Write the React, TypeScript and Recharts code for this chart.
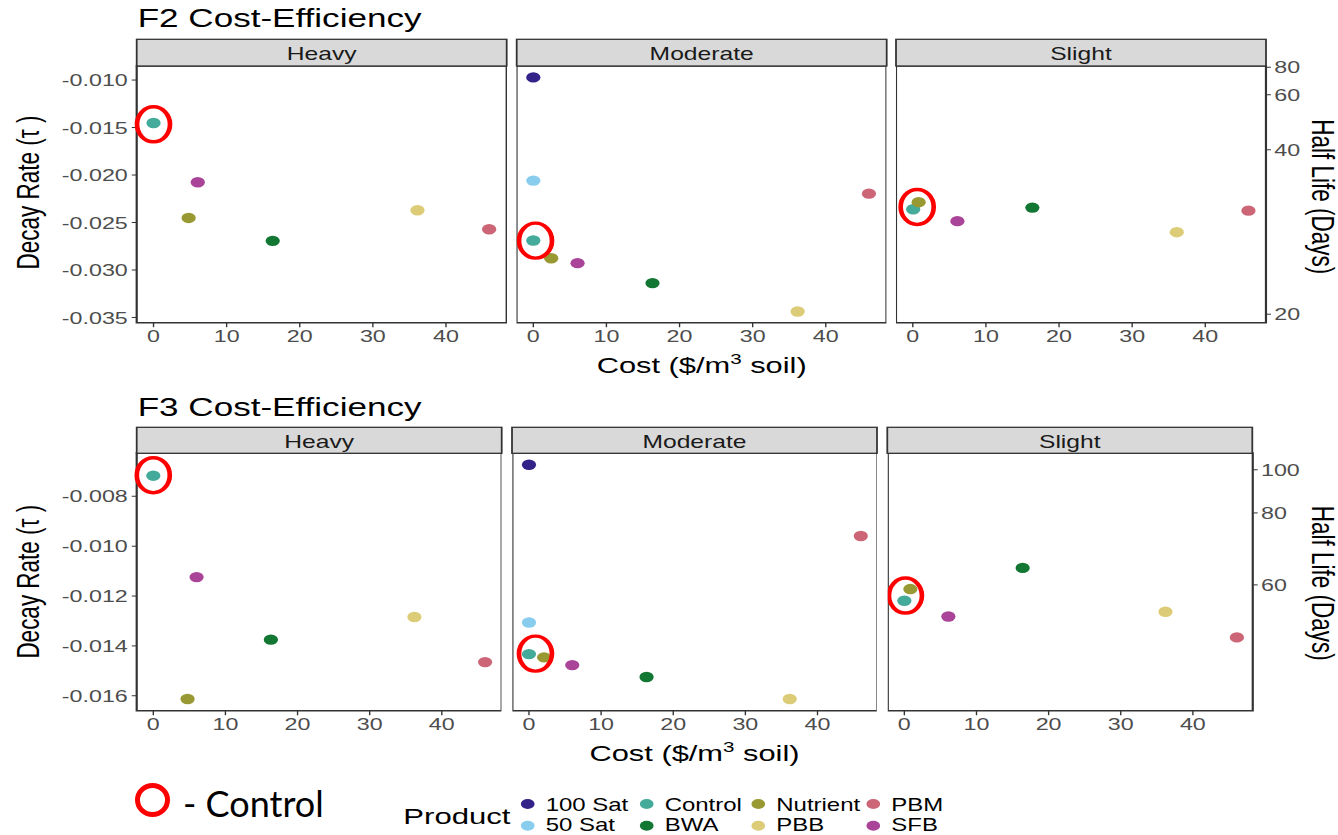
import { ScatterChart, Scatter, XAxis, YAxis, ReferenceArea } from "recharts"

// the original figure was stretched sideways when pasted onto the slide
const S = 1.37
const u = (x: number) => x / S
const FONT = "'Liberation Sans', Arial, Helvetica, sans-serif"

const products = ["100 Sat", "50 Sat", "Control", "BWA", "Nutrient", "PBB", "PBM", "SFB"]
const productColors = ["#332288", "#88CCEE", "#44AA99", "#117733", "#999933", "#DDCC77", "#CC6677", "#AA4499"]
const severities = ["Heavy", "Moderate", "Slight"]
const costTicks = [0, 10, 20, 30, 40]

// F2: cost ($/m3) and decay rate per product, one pair of arrays per severity
const f2CostHeavy = [null, null, 0, 16.3, 4.8, 36.1, 45.9, 6.05]
const f2TauHeavy = [null, null, -0.01452, -0.02693, -0.02452, -0.02371, -0.02571, -0.02076]
const f2CostModerate = [0, 0, 0, 16.3, 2.45, 36.15, 45.9, 6.05]
const f2TauModerate = [-0.00972, -0.02059, -0.0269, -0.03138, -0.02876, -0.03437, -0.02196, -0.02928]
const f2CostSlight = [null, null, 0.05, 16.35, 0.8, 36.1, 45.9, 6.1]
const f2TauSlight = [null, null, -0.0236, -0.02343, -0.02286, -0.02602, -0.02375, -0.02486]
const f2RateTicks = [-0.035, -0.03, -0.025, -0.02, -0.015, -0.01]
const f2HalfLifeTicks = [20, 40, 60, 80]
const f2RingCost = [0, 0.3, 0.6]
const f2RingTau = [-0.01466, -0.02691, -0.02336]

// F3
const f3CostHeavy = [null, null, 0, 16.3, 4.75, 36.2, 46.0, 6.0]
const f3TauHeavy = [null, null, -0.00717, -0.01375, -0.01613, -0.01284, -0.01465, -0.01124]
const f3CostModerate = [0, 0, 0, 16.3, 2.1, 36.15, 46.0, 6.0]
const f3TauModerate = [-0.00673, -0.01306, -0.01433, -0.01525, -0.01446, -0.01613, -0.00959, -0.01477]
const f3CostSlight = [null, null, 0, 16.4, 0.83, 36.2, 46.1, 6.1]
const f3TauSlight = [null, null, -0.01219, -0.01087, -0.01172, -0.01263, -0.01366, -0.01282]
const f3RateTicks = [-0.016, -0.014, -0.012, -0.01, -0.008]
const f3HalfLifeTicks = [60, 80, 100]
const f3RingCost = [0, 0.9, 0.15]
const f3RingTau = [-0.00715, -0.01431, -0.01198]

const costDomain: [number, number] = [-2.3, 48.3]

type Layout = {
  titleBaseline: number
  stripTop: number
  panelTop: number
  panelBottom: number
  lefts: number[]
  width: number
  xTitleBaseline: number
  yTitleY: number
  hlTitleY: number
}

const f2Layout: Layout = {
  titleBaseline: 26.7,
  stripTop: 39.3,
  panelTop: 66,
  panelBottom: 322.7,
  lefts: [136.7, 516.7, 896],
  width: 370,
  xTitleBaseline: 373.3,
  yTitleY: 192.5,
  hlTitleY: 196.7,
}

const f3Layout: Layout = {
  titleBaseline: 416,
  stripTop: 427.3,
  panelTop: 453.3,
  panelBottom: 711,
  lefts: [136.7, 512, 887.3],
  width: 365,
  xTitleBaseline: 761,
  yTitleY: 581.7,
  hlTitleY: 583.3,
}

const tickStyle = { fontSize: 17, fill: "#4d4d4d", fontFamily: FONT }
const PAD_TOP = 14 // room above the panel for tick labels that sit on its top edge

const dotShape = (color: string) => (props: any) => (
  <circle cx={props.cx} cy={props.cy} r={5.2} fill={color} />
)

const ringShape = (props: any) => (
  <ellipse cx={props.cx} cy={props.cy} rx={u(16.5)} ry={17.5} fill="none" stroke="#ff0000" strokeWidth={3.4} />
)

type PanelProps = {
  index: number
  layout: Layout
  cost: (number | null)[]
  tau: (number | null)[]
  domain: [number, number]
  rateTicks: number[]
  halfLifeTicks: number[]
  ring: { cost: number; tau: number }
}

function Panel({ index, layout, cost, tau, domain, rateTicks, halfLifeTicks, ring }: PanelProps) {
  const panelH = layout.panelBottom - layout.panelTop
  const leftW = index === 0 ? u(layout.lefts[0]) : 0
  const rightW = index === 2 ? 70 : 0
  const width = leftW + u(layout.width) + rightW
  const height = PAD_TOP + panelH + 40
  const left = index === 0 ? 0 : u(layout.lefts[index])

  return (
    <div style={{ position: "absolute", left, top: layout.panelTop - PAD_TOP, width, height }}>
      <ScatterChart width={width} height={height} margin={{ top: PAD_TOP, right: 0, bottom: 0, left: 0 }}>
        <XAxis
          type="number"
          dataKey="cost"
          domain={costDomain}
          ticks={costTicks}
          interval={0}
          height={40}
          axisLine={false}
          tickLine={{ stroke: "#333" }}
          tickSize={4.5}
          tickMargin={3}
          tick={tickStyle}
        />
        {index === 0 && (
          <YAxis
            type="number"
            dataKey="tau"
            domain={domain}
            ticks={rateTicks}
            interval={0}
            width={leftW}
            axisLine={false}
            tickLine={{ stroke: "#333" }}
            tickSize={3.6}
            tickMargin={2.9}
            tick={tickStyle}
            tickFormatter={(v: number) => v.toFixed(3)}
          />
        )}
        {index === 1 && <YAxis type="number" dataKey="tau" domain={domain} hide />}
        {index === 2 && (
          <YAxis
            type="number"
            dataKey="tau"
            orientation="right"
            domain={domain}
            ticks={halfLifeTicks.map((h) => -Math.LN2 / h)}
            interval={0}
            width={rightW}
            axisLine={false}
            tickLine={{ stroke: "#333" }}
            tickSize={3.6}
            tickMargin={2.4}
            tick={tickStyle}
            tickFormatter={(v: number) => String(Math.round(-Math.LN2 / v))}
          />
        )}
        <ReferenceArea
          x1={costDomain[0]}
          x2={costDomain[1]}
          y1={domain[0]}
          y2={domain[1]}
          fill="none"
          stroke="#333"
          strokeWidth={1.6}
          ifOverflow="visible"
        />
        {products.map((p, i) =>
          cost[i] == null ? null : (
            <Scatter
              key={p}
              name={p}
              data={[{ cost: cost[i], tau: tau[i] }]}
              fill={productColors[i]}
              shape={dotShape(productColors[i])}
              isAnimationActive={false}
            />
          )
        )}
        <Scatter name="ring" data={[ring]} shape={ringShape} isAnimationActive={false} />
      </ScatterChart>
    </div>
  )
}

type FigureProps = {
  title: string
  layout: Layout
  costs: (number | null)[][]
  taus: (number | null)[][]
  domain: [number, number]
  rateTicks: number[]
  halfLifeTicks: number[]
  ringCost: number[]
  ringTau: number[]
}

function Figure({ title, layout, costs, taus, domain, rateTicks, halfLifeTicks, ringCost, ringTau }: FigureProps) {
  const stripH = layout.panelTop - layout.stripTop
  const midX = u(layout.lefts[1] + layout.width / 2)
  return (
    <>
      {severities.map((sev, i) => (
        <Panel
          key={sev}
          index={i}
          layout={layout}
          cost={costs[i]}
          tau={taus[i]}
          domain={domain}
          rateTicks={rateTicks}
          halfLifeTicks={halfLifeTicks}
          ring={{ cost: ringCost[i], tau: ringTau[i] }}
        />
      ))}
      <svg
        width={u(1338)}
        height={835}
        style={{ position: "absolute", left: 0, top: 0, pointerEvents: "none", fontFamily: FONT }}
      >
        <text x={u(137.7)} y={layout.titleBaseline} fontSize={25.6} fill="#000">
          {title}
        </text>
        {severities.map((sev, i) => (
          <g key={sev}>
            <rect
              x={u(layout.lefts[i])}
              y={layout.stripTop}
              width={u(layout.width)}
              height={stripH}
              fill="#d9d9d9"
              stroke="#333"
              strokeWidth={1.3}
            />
            <text
              x={u(layout.lefts[i] + layout.width / 2)}
              y={layout.stripTop + 20.5}
              textAnchor="middle"
              fontSize={18}
              fill="#1a1a1a"
            >
              {sev}
            </text>
          </g>
        ))}
        <text x={midX} y={layout.xTitleBaseline} textAnchor="middle" fontSize={22.5} fill="#000">
          Cost ($/m
          <tspan dy={-9} fontSize={15}>
            3
          </tspan>
          <tspan dy={9}> soil)</tspan>
        </text>
        <text
          transform={`translate(${u(38.5)}, ${layout.yTitleY}) rotate(-90)`}
          textAnchor="middle"
          fontSize={22.5}
          fill="#000"
        >
          Decay Rate (τ )
        </text>
        <text
          transform={`translate(${u(1311.7)}, ${layout.hlTitleY}) rotate(90)`}
          textAnchor="middle"
          fontSize={22.5}
          fill="#000"
        >
          Half Life (Days)
        </text>
      </svg>
    </>
  )
}

const legendDotX = [527.7, 646.7, 758.3, 873.3]
const legendDotY = [804, 825.7]
const legendTextY = [811.5, 831]

function Legend() {
  return (
    <svg
      width={u(1338)}
      height={835}
      style={{ position: "absolute", left: 0, top: 0, pointerEvents: "none", fontFamily: FONT }}
    >
      <text x={u(403.3)} y={824.3} fontSize={22.7} fill="#000">
        Product
      </text>
      {products.map((p, i) => {
        const col = Math.floor(i / 2)
        const row = i % 2
        return (
          <g key={p}>
            <circle cx={u(legendDotX[col])} cy={legendDotY[row]} r={5} fill={productColors[i]} />
            <text x={u(legendDotX[col] + 18)} y={legendTextY[row]} fontSize={17.5} fill="#000">
              {p}
            </text>
          </g>
        )
      })}
    </svg>
  )
}

export default function App() {
  return (
    <div
      style={{
        position: "absolute",
        left: 0,
        top: 0,
        width: 1338,
        height: 835,
        background: "#fff",
        overflow: "hidden",
      }}
    >
      <div
        style={{
          position: "absolute",
          left: 0,
          top: 0,
          width: u(1338),
          height: 835,
          transform: `scaleX(${S})`,
          transformOrigin: "0 0",
        }}
      >
        <Figure
          title="F2 Cost-Efficiency"
          layout={f2Layout}
          costs={[f2CostHeavy, f2CostModerate, f2CostSlight]}
          taus={[f2TauHeavy, f2TauModerate, f2TauSlight]}
          domain={[-0.03555, -0.00852]}
          rateTicks={f2RateTicks}
          halfLifeTicks={f2HalfLifeTicks}
          ringCost={f2RingCost}
          ringTau={f2RingTau}
        />
        <Figure
          title="F3 Cost-Efficiency"
          layout={f3Layout}
          costs={[f3CostHeavy, f3CostModerate, f3CostSlight]}
          taus={[f3TauHeavy, f3TauModerate, f3TauSlight]}
          domain={[-0.0166, -0.00626]}
          rateTicks={f3RateTicks}
          halfLifeTicks={f3HalfLifeTicks}
          ringCost={f3RingCost}
          ringTau={f3RingTau}
        />
        <Legend />
      </div>
      <svg width={1338} height={835} style={{ position: "absolute", left: 0, top: 0, pointerEvents: "none" }}>
        <ellipse cx={152.5} cy={800} rx={15} ry={14.5} fill="none" stroke="#ff0000" strokeWidth={5} />
        <text x={183} y={816.7} fontSize={36} fontFamily="Lato, 'Open Sans', sans-serif" fill="#000">
          - Control
        </text>
      </svg>
    </div>
  )
}
